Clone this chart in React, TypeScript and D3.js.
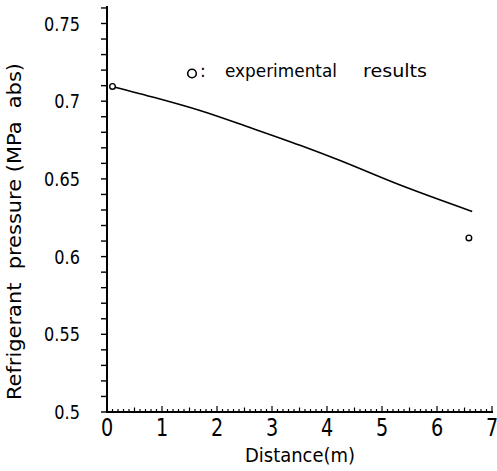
import React from 'react';
import * as d3 from 'd3';

// simulated pressure drop along the tube
const curveDistance = [0.09, 0.9, 1.69, 2.6, 3.51, 4.18, 5.33, 6.64];
const curvePressure = [0.7095, 0.702, 0.694, 0.683, 0.6716, 0.6626, 0.646, 0.629];

// measured points
const expDistance = [0.1, 6.58];
const expPressure = [0.7095, 0.612];

const xTickValues = [0, 1, 2, 3, 4, 5, 6, 7];
const yTickValues = [0.5, 0.55, 0.6, 0.65, 0.7, 0.75];
const yTickLabels = ['0.5', '0.55', '0.6', '0.65', '0.7', '0.75'];

const W = 497;
const H = 471;
const FONT = "'DejaVu Sans', sans-serif";

const App = () => {
  const x = d3.scaleLinear().domain([0, 7]).range([107, 492]);
  const y = d3.scaleLinear().domain([0.5, 0.75]).range([412, 23.5]);

  const line = d3.line<number>()
    .x((d, i) => x(curveDistance[i]))
    .y(d => y(d))
    .curve(d3.curveMonotoneX);

  const xMinor = d3.range(0, 70).map(i => i / 10);
  const yMinor = d3.range(50, 77).map(i => i / 100);

  return (
    <svg width={W} height={H} style={{ position: 'absolute', left: 0, top: 0, background: '#fff' }}>
      {/* y axis */}
      <line x1={x(0)} x2={x(0)} y1={y(0.5)} y2={6} stroke="#000" strokeWidth={2} />
      {yMinor.map(v => (
        <line key={'ym' + v} x1={x(0) - 6} x2={x(0) + 1} y1={y(v)} y2={y(v)} stroke="#000" strokeWidth={1.4} />
      ))}
      {yTickValues.map((v, i) => (
        <text key={'yl' + v} transform={`translate(80,${y(v)}) scale(0.85,1.05)`} dy="0.36em" textAnchor="end"
          fontFamily={FONT} fontSize={19} fill="#000">{yTickLabels[i]}</text>
      ))}

      {/* x axis */}
      <line x1={x(0) - 1} x2={x(7) + 1} y1={y(0.5)} y2={y(0.5)} stroke="#000" strokeWidth={2} />
      {xMinor.map(v => {
        const r = Math.round(v * 10);
        const h = r % 10 === 0 ? 6 : r % 5 === 0 ? 4.5 : 3;
        return <line key={'xm' + r} x1={x(v)} x2={x(v)} y1={y(0.5)} y2={y(0.5) - h} stroke="#000" strokeWidth={1.2} />;
      })}
      <line x1={x(7)} x2={x(7)} y1={y(0.5)} y2={y(0.5) - 6} stroke="#000" strokeWidth={1.2} />
      {xTickValues.map(v => (
        <text key={'xl' + v} transform={`translate(${x(v)},436) scale(0.8,1)`} textAnchor="middle"
          fontFamily={FONT} fontSize={24} fill="#000">{v}</text>
      ))}

      {/* titles */}
      <text x={245} y={462} fontFamily={FONT} fontSize={19} textLength={110}
        lengthAdjust="spacingAndGlyphs" fill="#000">Distance(m)</text>
      <text transform="translate(21,400) rotate(-90)" fontFamily={FONT} fontSize={19}
        textLength={337} lengthAdjust="spacingAndGlyphs" fill="#000" style={{ whiteSpace: 'pre' }}>Refrigerant  pressure (MPa  abs)</text>

      {/* model curve */}
      <path d={line(curvePressure) || ''} fill="none" stroke="#000" strokeWidth={1.6} />

      {/* experimental points */}
      {expDistance.map((d, i) => (
        <circle key={'e' + i} cx={x(d)} cy={y(expPressure[i])} r={2.8} fill="#fff" stroke="#000" strokeWidth={1.4} />
      ))}

      {/* legend */}
      <circle cx={192} cy={73.5} r={4.3} fill="#fff" stroke="#000" strokeWidth={1.6} />
      <text x={200} y={77} fontFamily={FONT} fontSize={17} fill="#000">:</text>
      <text x={225} y={77} fontFamily={FONT} fontSize={18} textLength={112}
        lengthAdjust="spacingAndGlyphs" fill="#000">experimental</text>
      <text x={363} y={77} fontFamily={FONT} fontSize={18} textLength={64}
        lengthAdjust="spacingAndGlyphs" fill="#000">results</text>
    </svg>
  );
};

export default App;
